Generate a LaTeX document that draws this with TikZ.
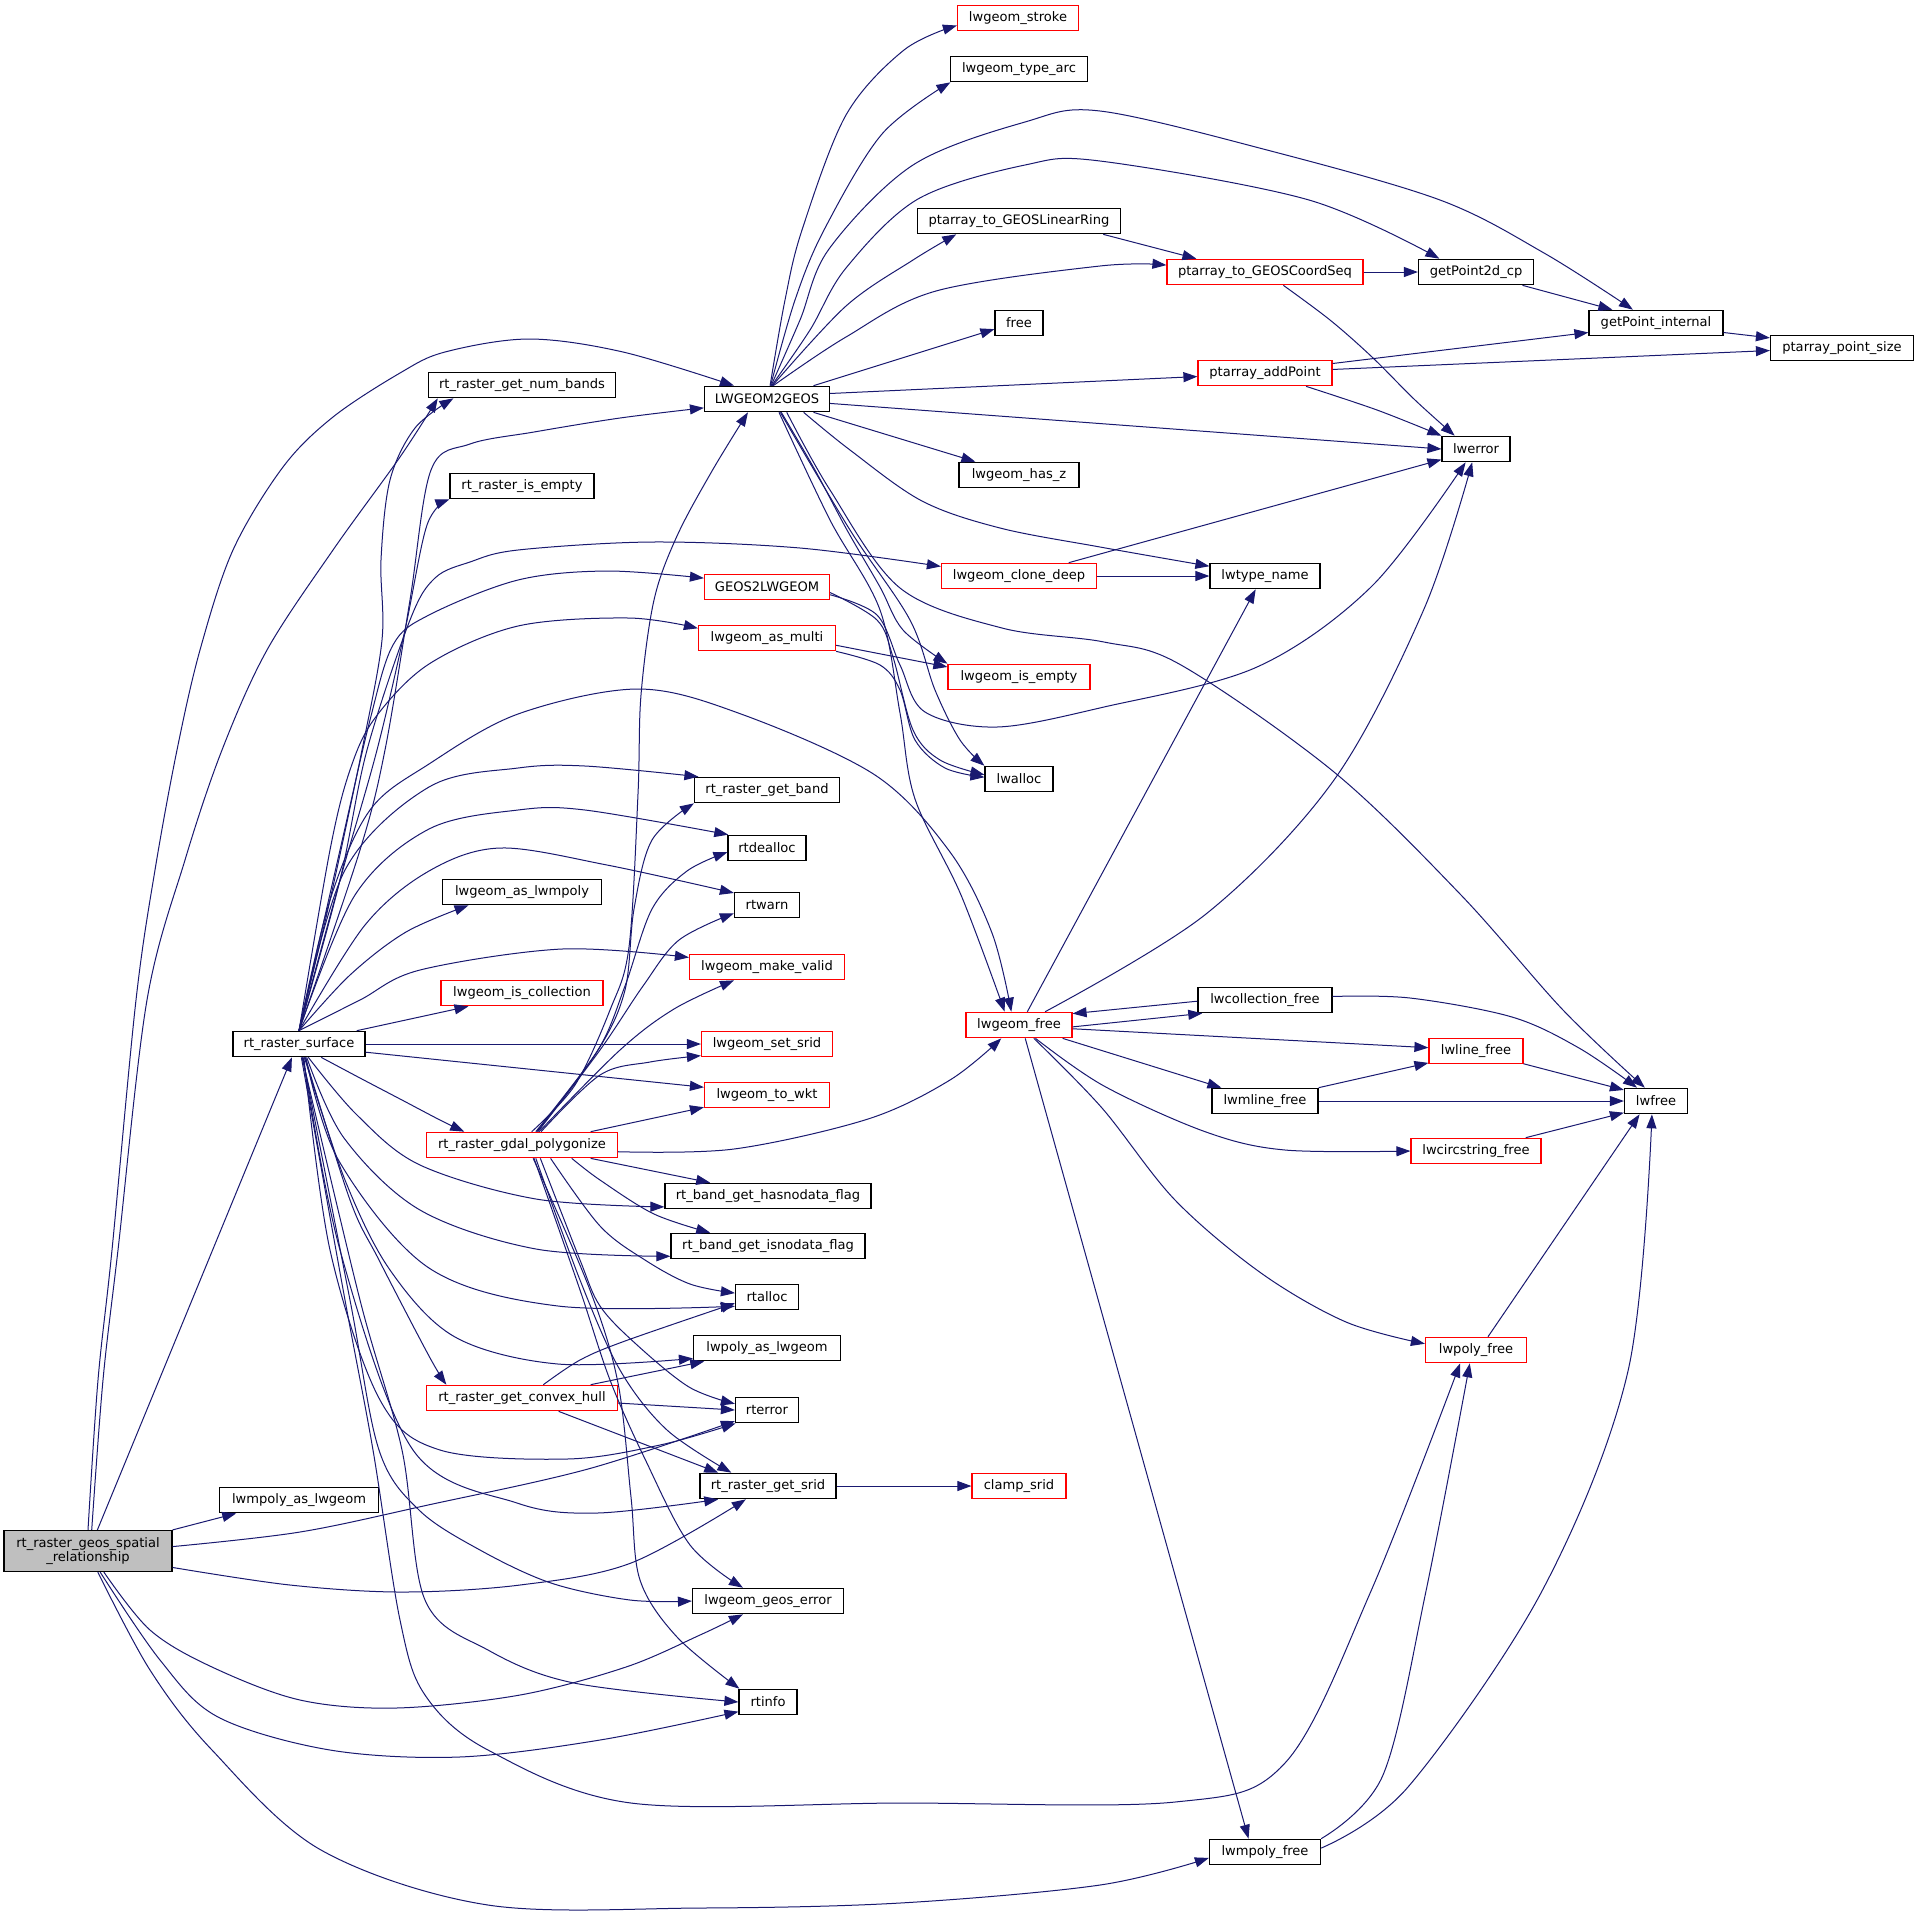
\documentclass[tikz,border=0pt]{standalone}
\usepackage{fontspec}
\setmainfont{DejaVu Sans}
\usetikzlibrary{arrows.meta}
\definecolor{edgec}{HTML}{191970}
\definecolor{grayf}{HTML}{BFBFBF}
\tikzset{
  nd/.style={draw=black, line width=0.9pt, fill=white, minimum height=19.1pt, inner sep=0pt,
    font=\fontsize{9.8pt}{10pt}\selectfont, minimum width=#1*0.75pt},
  rd/.style={nd=#1, draw=red},
  edge/.style={draw=edgec, line width=0.75pt, -{Triangle[length=10.5pt,width=7.5pt]}},
}
\newcommand\edgecurve[1]{\draw[edge] plot[smooth,tension=0.55] coordinates {#1};}
\newcommand\edgeline[2]{\draw[edge] (#1) -- (#2);}
\begin{document}
\begin{tikzpicture}[x=0.75pt,y=-0.75pt]
\fill[white] (0,0) rectangle (1919,1911);
\useasboundingbox (0,0) rectangle (1919,1911);
% nodes
\node[nd=168, fill=grayf, minimum height=30.75pt, align=center] (G) at (88,1551) {rt\_raster\_geos\_spatial\\\_relationship};
\node[nd=132] (S) at (299,1044) {rt\_raster\_surface};
\node[nd=187] (NB) at (522,385) {rt\_raster\_get\_num\_bands};
\node[nd=144] (IE) at (522,486) {rt\_raster\_is\_empty};
\node[nd=159] (AP) at (522,892) {lwgeom\_as\_lwmpoly};
\node[rd=162] (IC) at (522,993) {lwgeom\_is\_collection};
\node[rd=191] (P) at (522,1145) {rt\_raster\_gdal\_polygonize};
\node[rd=191] (H) at (522,1398) {rt\_raster\_get\_convex\_hull};
\node[nd=159] (MA) at (299,1500) {lwmpoly\_as\_lwgeom};
\node[nd=125] (L) at (767,399) {LWGEOM2GEOS};
\node[rd=125] (E) at (767,587) {GEOS2LWGEOM};
\node[rd=137] (AM) at (767,638) {lwgeom\_as\_multi};
\node[nd=145] (GB) at (767,790) {rt\_raster\_get\_band};
\node[nd=78] (DA) at (767,848) {rtdealloc};
\node[nd=65] (W) at (767,905) {rtwarn};
\node[rd=155] (MV) at (767,967) {lwgeom\_make\_valid};
\node[rd=131] (SS) at (767,1044) {lwgeom\_set\_srid};
\node[rd=125] (WKT) at (767,1095) {lwgeom\_to\_wkt};
\node[nd=206] (HF) at (768,1196) {rt\_band\_get\_hasnodata\_flag};
\node[nd=194] (IF) at (768,1246) {rt\_band\_get\_isnodata\_flag};
\node[nd=63] (RA) at (767,1297) {rtalloc};
\node[nd=147] (PA) at (767,1348) {lwpoly\_as\_lwgeom};
\node[nd=63] (RE) at (767,1410) {rterror};
\node[nd=136] (GS) at (768,1486) {rt\_raster\_get\_srid};
\node[nd=151] (GE) at (768,1601) {lwgeom\_geos\_error};
\node[nd=58] (RI) at (768,1702) {rtinfo};
\node[rd=121] (ST) at (1018,18) {lwgeom\_stroke};
\node[nd=137] (TA) at (1019,69) {lwgeom\_type\_arc};
\node[nd=203] (LR) at (1019,221) {ptarray\_to\_GEOSLinearRing};
\node[nd=48] (FR) at (1019,323) {free};
\node[nd=120] (HZ) at (1019,475) {lwgeom\_has\_z};
\node[rd=155] (CD) at (1019,576) {lwgeom\_clone\_deep};
\node[rd=142] (EM) at (1019,677) {lwgeom\_is\_empty};
\node[nd=68] (LA) at (1019,779) {lwalloc};
\node[rd=106] (LF) at (1019,1025) {lwgeom\_free};
\node[rd=94] (CS) at (1019,1486) {clamp\_srid};
\node[rd=196] (CQ) at (1265,272) {ptarray\_to\_GEOSCoordSeq};
\node[rd=134] (PAP) at (1265,373) {ptarray\_addPoint};
\node[nd=110] (TN) at (1265,576) {lwtype\_name};
\node[nd=134] (CF) at (1265,1000) {lwcollection\_free};
\node[nd=106] (MLF) at (1265,1101) {lwmline\_free};
\node[nd=111] (MPF) at (1265,1852) {lwmpoly\_free};
\node[nd=115] (P2) at (1476,272) {getPoint2d\_cp};
\node[nd=68] (ER) at (1476,449) {lwerror};
\node[rd=94] (LNF) at (1476,1051) {lwline\_free};
\node[rd=130] (CSF) at (1476,1151) {lwcircstring\_free};
\node[rd=101] (PF) at (1476,1350) {lwpoly\_free};
\node[nd=134] (GI) at (1656,323) {getPoint\_internal};
\node[nd=63] (LW) at (1656,1101) {lwfree};
\node[nd=143] (PS) at (1842,348) {ptarray\_point\_size};
% edges from rt_raster_geos_spatial_relationship
\edgecurve{(G.north) (98,1380) (112,1250) (136,1000) (155,870) (177,750) (200,650) (233,550) (283,467) (333,417) (400,373) (445,352) (529,339) (623,352) (L.158)}
\edgecurve{(G.80) (103,1380) (118,1250) (147,1000) (185,860) (222,750) (267,650) (333,550) (400,457) (NB.189)}
\edgeline{G.66}{S.242}
\edgeline{G.north east}{MA.192}
\edgecurve{(G.3) (300,1532) (428,1505) (588,1469) (RE.199)}
\edgecurve{(G.349) (290,1585) (402,1592) (520,1585) (631,1563) (GS.211)}
\edgecurve{(G.307) (150,1630) (212,1667) (300,1700) (396,1708) (520,1695) (626,1667) (700,1635) (GE.208)}
\edgecurve{(G.300) (160,1660) (218,1717) (330,1750) (459,1757) (600,1740) (RI.198)}
\edgecurve{(G.295) (150,1670) (212,1750) (321,1850) (488,1905) (700,1908) (900,1903) (1100,1885) (MPF.186)}
% edges from rt_raster_surface (top)
\edgecurve{(S.north) (330,900) (362,750) (382,640) (381,560) (390,480) (415,428) (NB.191)}
\edgecurve{(S.north) (360,850) (385,750) (410,600) (431,470) (470,444) (534,432) (620,418) (L.188)}
\edgecurve{(S.north) (340,880) (377,750) (405,630) (427,525) (IE.south west)}
\edgecurve{(S.north) (340,880) (367,750) (410,620) (435,578) (470,562) (518,550) (652,542) (800,548) (CD.173)}
\edgecurve{(S.north) (340,850) (370,720) (393,645) (429,615) (518,580) (607,571) (E.172)}
\edgecurve{(S.north) (330,850) (350,770) (375,718) (429,664) (518,626) (629,618) (AM.172)}
\edgecurve{(S.north) (330,900) (370,810) (429,764) (518,714) (638,689) (741,714) (875,775) (950,852) (992,933) (LF.120)}
\edgecurve{(S.north) (345,870) (429,787) (518,768) (585,766) (GB.169)}
\edgecurve{(S.north) (355,895) (429,829) (518,810) (585,810) (DA.161)}
\edgecurve{(S.north) (365,925) (429,871) (500,848) (607,865) (W.160)}
\edgecurve{(S.north) (350,975) (406,932) (AP.194)}
\edgecurve{(S.north) (360,1000) (420,970) (562,949) (MV.173)}
\edgeline{S.13}{IC.194}
\edgeline{S.east}{SS.west}
\edgeline{S.353}{WKT.173}
% edges from rt_raster_surface (bottom)
\edgecurve{(S.329) (360,1078) (402,1100) (440,1120) (P.167)}
\edgecurve{(S.305) (357,1115) (420,1165) (536,1199) (HF.186)}
\edgecurve{(S.300) (344,1138) (420,1210) (536,1249) (IF.186)}
\edgecurve{(S.297) (339,1161) (429,1268) (558,1306) (RA.196)}
\edgecurve{(S.295) (350,1200) (379,1260) (429,1356) (H.170)}
\edgecurve{(S.292) (345,1180) (390,1270) (455,1337) (558,1364) (PA.188)}
\edgecurve{(S.290) (330,1250) (380,1400) (440,1450) (567,1459) (660,1445) (RE.203)}
\edgecurve{(S.287) (340,1250) (413,1450) (517,1503) (597,1513) (GS.195)}
\edgecurve{(S.285) (350,1300) (379,1450) (419,1510) (480,1550) (551,1583) (630,1600) (GE.west)}
\edgecurve{(S.283) (360,1300) (402,1450) (425,1600) (488,1650) (574,1683) (RI.west)}
\edgecurve{(S.280) (345,1300) (373,1450) (400,1620) (425,1695) (488,1750) (631,1803) (900,1803) (1175,1802) (1285,1763) (1371,1591) (PF.220)}
% edges from rt_raster_gdal_polygonize
\edgecurve{(P.54) (575,1085) (610,1010) (629,947) (638,794) (641,695) (654,600) (677,536) (712,471) (L.215)}
\edgecurve{(P.44) (598,1050) (625,990) (634,909) (652,840) (GB.south west)}
\edgecurve{(P.42) (598,1050) (625,986) (652,909) (687,871) (DA.186)}
\edgecurve{(P.40) (600,1050) (643,986) (679,940) (W.194)}
\edgecurve{(P.38) (620,1050) (674,1009) (MV.202)}
\edgecurve{(P.35) (600,1075) (650,1062) (SS.190)}
\edgeline{P.11}{WKT.191}
\edgecurve{(P.356) (734,1149) (868,1119) (950,1080) (LF.217)}
\edgeline{P.349}{HF.167}
\edgecurve{(P.345) (600,1180) (654,1214) (IF.167)}
\edgecurve{(P.335) (600,1226) (645,1260) (690,1284) (RA.173)}
\edgecurve{(P.324) (580,1260) (600,1306) (636,1344) (689,1387) (RE.169)}
\edgecurve{(P.316) (580,1280) (620,1370) (667,1430) (GS.160)}
\edgecurve{(P.312) (580,1290) (610,1380) (645,1459) (690,1545) (GE.152)}
\edgecurve{(P.310) (590,1290) (618,1383) (631,1497) (640,1580) (677,1637) (RI.155)}
% edges from rt_raster_get_convex_hull
\edgecurve{(H.32) (580,1360) (625,1341) (RA.191)}
\edgeline{H.11}{PA.192}
\edgeline{H.357}{RE.west}
\edgeline{H.340}{GS.165}
\edgeline{GS.east}{CS.west}
% edges from LWGEOM2GEOS
\edgecurve{(L.77) (785,300) (802,230) (846,115) (904,50) (ST.187)}
\edgecurve{(L.75) (795,300) (824,230) (882,134) (TA.191)}
\edgecurve{(L.73) (800,320) (829,249) (913,165) (1025,122) (1100,111) (1267,150) (1440,200) (1544,253) (GI.150)}
\edgecurve{(L.71) (810,330) (846,268) (918,199) (1025,165) (1100,161) (1309,200) (P2.160)}
\edgecurve{(L.68) (846,306) (913,260) (LR.192)}
\edgecurve{(L.65) (846,337) (936,291) (1100,266) (CQ.176)}
\edgeline{L.16}{FR.194}
\edgeline{L.5}{PAP.183}
\edgeline{L.356}{ER.west}
\edgeline{L.344}{HZ.163}
\edgecurve{(L.340) (850,450) (922,501) (1000,528) (1100,547) (TN.170)}
\edgecurve{(L.326) (830,490) (900,588) (1002,628) (1104,642) (1181,665) (1334,772) (1461,895) (1563,1010) (LW.130)}
\edgecurve{(L.317) (815,470) (847,530) (880,587) (903,630) (EM.north west)}
\edgecurve{(L.315) (850,530) (910,620) (935,690) (960,740) (LA.159)}
\edgecurve{(L.312) (830,520) (880,610) (900,713) (915,799) (961,895) (LF.137)}
% GEOS2LWGEOM, lwgeom_as_multi
\edgecurve{(E.355) (877,620) (893,657) (913,730) (940,760) (LA.173)}
\edgecurve{(E.353) (877,615) (900,665) (925,712) (997,727) (1104,707) (1257,667) (1372,586) (ER.232)}
\edgeline{AM.354}{EM.172}
\edgecurve{(AM.south east) (880,665) (900,690) (915,740) (945,768) (LA.177)}
% right part
\edgeline{CD.east}{TN.west}
\edgeline{CD.15}{ER.197}
\edgeline{LR.351}{CQ.169}
\edgeline{CQ.east}{P2.west}
\edgecurve{(CQ.324) (1330,320) (1372,357) (1415,400) (ER.148)}
\edgeline{P2.344}{GI.163}
\edgeline{GI.352}{PS.172}
\edgeline{PAP.8}{GI.188}
\edgeline{PAP.3}{PS.182}
\edgecurve{(PAP.342) (1377,410) (ER.north west)}
% lwgeom_free and friends
\edgeline{LF.58}{TN.235}
\edgecurve{(LF.27) (1206,914) (1334,780) (1424,609) (ER.254)}
\edgeline{LF.358}{CF.192}
\edgeline{CF.181}{LF.12}
\edgeline{LF.356}{LNF.176}
\edgeline{LF.343}{MLF.163}
\edgecurve{(LF.321) (1104,1086) (1206,1132) (1285,1150) (CSF.west)}
\edgecurve{(LF.318) (1102,1108) (1175,1200) (1261,1273) (1346,1322) (PF.173)}
\edgeline{LF.295}{MPF.141}
\edgecurve{(CF.3) (1410,998) (1512,1017) (1579,1048) (LW.145)}
\edgeline{LNF.345}{LW.161}
\edgeline{MLF.north east}{LNF.194}
\edgeline{MLF.east}{LW.west}
\edgeline{CSF.15}{LW.200}
\edgeline{PF.48}{LW.219}
\edgecurve{(MPF.north east) (1383,1775) (1426,1591) (PF.245)}
\edgecurve{(MPF.4) (1408,1787) (1542,1591) (1628,1371) (LW.253)}
\end{tikzpicture}
\end{document}
